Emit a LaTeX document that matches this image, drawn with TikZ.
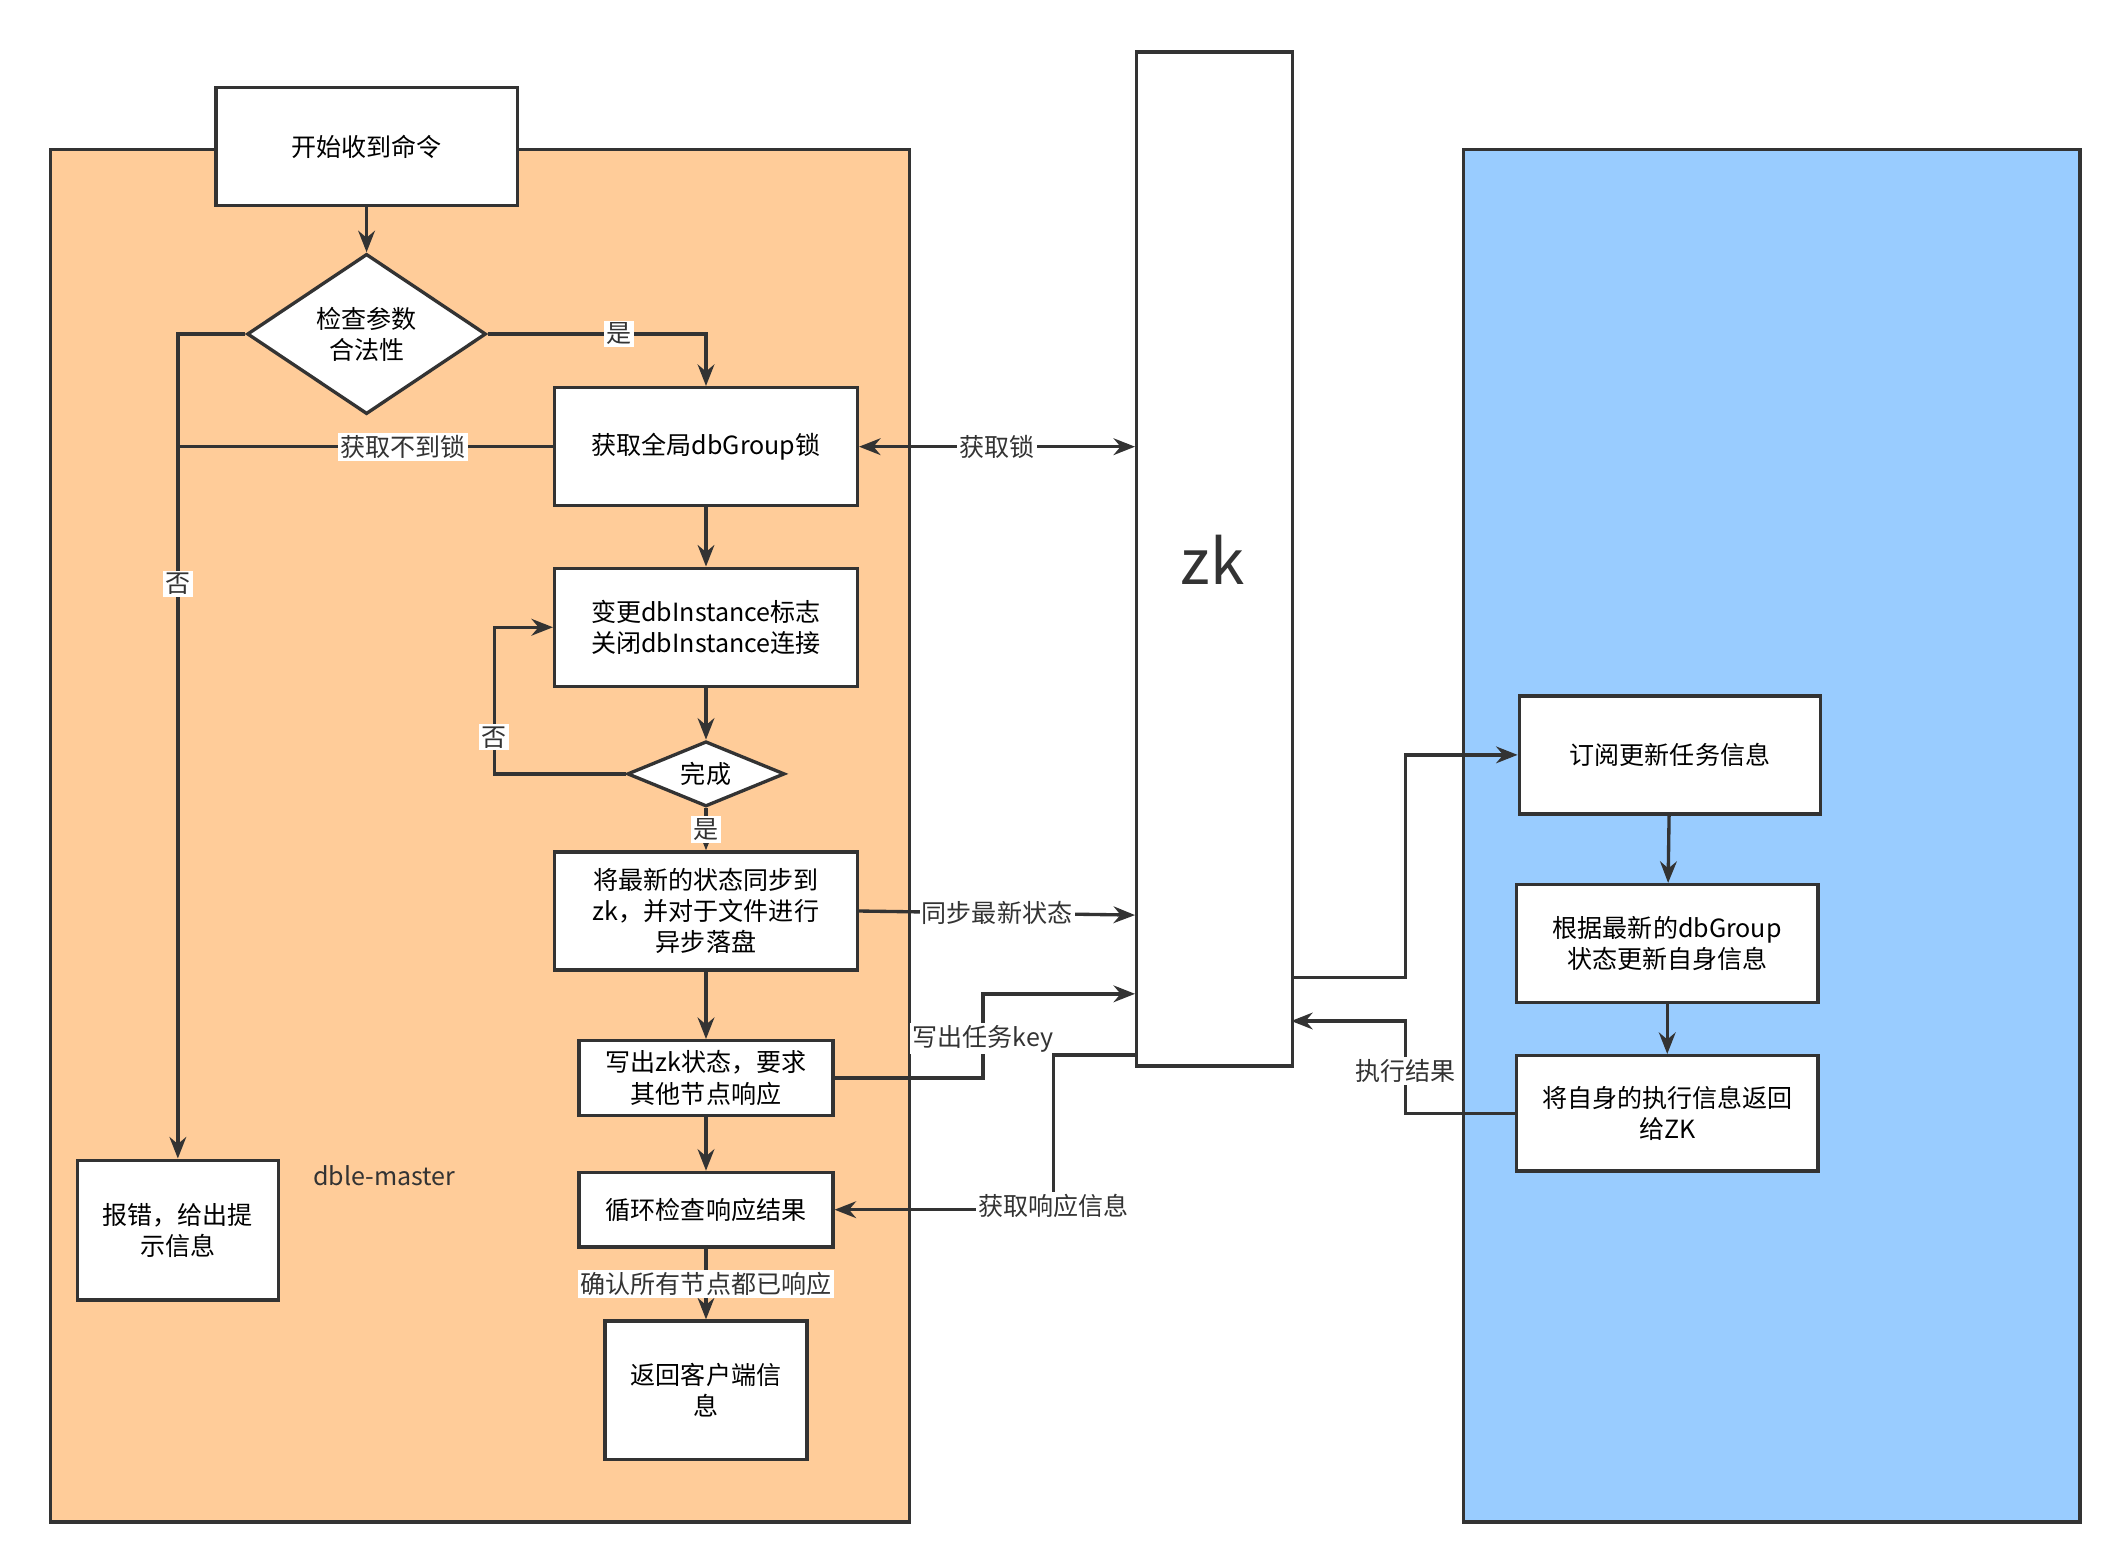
\documentclass[tikz,border=0pt]{standalone}
\usepackage{fontspec}
\setmainfont{Noto Sans CJK SC}
\usetikzlibrary{arrows.meta,shapes.geometric,positioning}
\definecolor{linegray}{HTML}{333333}
\definecolor{masterfill}{HTML}{FFCC99}
\definecolor{slavefill}{HTML}{99CCFF}
\tikzset{>={Stealth[length=9pt,width=7pt]}}
\tikzset{
    box/.style={rectangle,draw=linegray,fill=white,line width=1.4pt,align=center,font=\fontsize{10.5}{13}\selectfont,inner sep=0pt},
    decision/.style={diamond,draw=linegray,fill=white,line width=1.4pt,align=center,font=\fontsize{10.5}{13}\selectfont,inner sep=0pt,aspect=1.5},
    flow/.style={draw=linegray,line width=1.4pt},
    edgelabel/.style={fill=white,inner sep=1pt,font=\fontsize{10.5}{13}\selectfont,text=linegray},
}
\begin{document}
\begin{tikzpicture}[x=0.02cm,y=-0.02cm]
    \useasboundingbox (0,0) rectangle (1560,1153);
    % areas
    \draw[line width=1.4pt,draw=linegray,fill=masterfill] (37,110) rectangle (670,1121);
    \draw[line width=1.4pt,draw=linegray,fill=slavefill] (1078,110) rectangle (1532,1121);
    \node[box,minimum width=115\pgflinewidth,anchor=north west,minimum width=2.3cm,minimum height=14.94cm] (zk) at (836,37) {};
    \node[font=\fontsize{26}{30}\selectfont,text=linegray] at (893,412) {zk};
    \node[font=\fontsize{10.5}{13}\selectfont,text=linegray] (master) at (283,866) {dble-master};

    % master side
    \node[box,minimum width=4.44cm,minimum height=1.74cm] (start) at (270,108) {开始收到命令};
    \node[decision,minimum width=3.52cm,minimum height=2.36cm] (check) at (270,246) {检查参数\\合法性};
    \node[box,minimum width=4.46cm,minimum height=1.74cm] (lock) at (520,329) {获取全局dbGroup锁};
    \node[box,minimum width=4.46cm,minimum height=1.74cm] (change) at (520,462) {变更dbInstance标志\\关闭dbInstance连接};
    \node[decision,minimum width=2.32cm,minimum height=0.96cm] (done) at (520,570) {完成};
    \node[box,minimum width=4.46cm,minimum height=1.74cm] (sync) at (520,671) {将最新的状态同步到\\zk，并对于文件进行\\异步落盘};
    \node[box,minimum width=3.74cm,minimum height=1.1cm] (write) at (520,794) {写出zk状态，要求\\其他节点响应};
    \node[box,minimum width=3.74cm,minimum height=1.1cm] (loop) at (520,891) {循环检查响应结果};
    \node[box,minimum width=2.98cm,minimum height=2.04cm] (reply) at (520,1024) {返回客户端信\\息};
    \node[box,minimum width=2.96cm,minimum height=2.06cm] (error) at (131,906) {报错，给出提\\示信息};

    % slave side
    \node[box,minimum width=4.44cm,minimum height=1.74cm] (subscribe) at (1230,556) {订阅更新任务信息};
    \node[box,minimum width=4.44cm,minimum height=1.74cm] (update) at (1228,695) {根据最新的dbGroup\\状态更新自身信息};
    \node[box,minimum width=4.44cm,minimum height=1.7cm] (feedback) at (1228,820) {将自身的执行信息返回\\给ZK};

    % connectors
    \draw[flow,->] (start) -- (check);
    \draw[flow,->] (check.east) -- (520,246) node[edgelabel,pos=0.6] {是} -- (lock.north);
    \draw[flow,->] (check.west) -- (131,246) -- (131,430) node[edgelabel] {否} -- (error.north);
    \draw[flow] (lock.west) -- (131,329) node[edgelabel,pos=0.4] {获取不到锁};
    \draw[flow,<->] (lock.east) -- (836,329) node[edgelabel,midway] {获取锁};
    \draw[flow,->] (lock) -- (change);
    \draw[flow,->] (change) -- (done);
    \draw[flow,->] (done.west) -- (364,570) -- (364,543) node[edgelabel] {否} -- (364,462) -- (change.west);
    \draw[flow,->] (done.south) -- (sync.north) node[edgelabel,midway] {是};
    \draw[flow,->] (sync.east) -- (836,674) node[edgelabel,midway] {同步最新状态};
    \draw[flow,->] (sync) -- (write);
    \draw[flow,->] (write.east) -- (724,794) -- (724,765) node[edgelabel] {写出任务key} -- (724,732) -- (836,732);
    \draw[flow,->] (write) -- (loop);
    \draw[flow,->] (836,777) -- (776,777) -- (776,888) node[edgelabel] {获取响应信息} -- (776,891) -- (loop.east);
    \draw[flow,->] (loop) -- (reply) node[edgelabel,midway] {确认所有节点都已响应};
    \draw[flow,->] (951,720) -- (1035,720) -- (1035,556) -- (subscribe.west);
    \draw[flow,->] (subscribe) -- (update);
    \draw[flow,->] (update) -- (feedback);
    \draw[flow,->] (feedback.west) -- (1035,820) -- (1035,789) node[edgelabel] {执行结果} -- (1035,752) -- (951,752);
\end{tikzpicture}
\end{document}
